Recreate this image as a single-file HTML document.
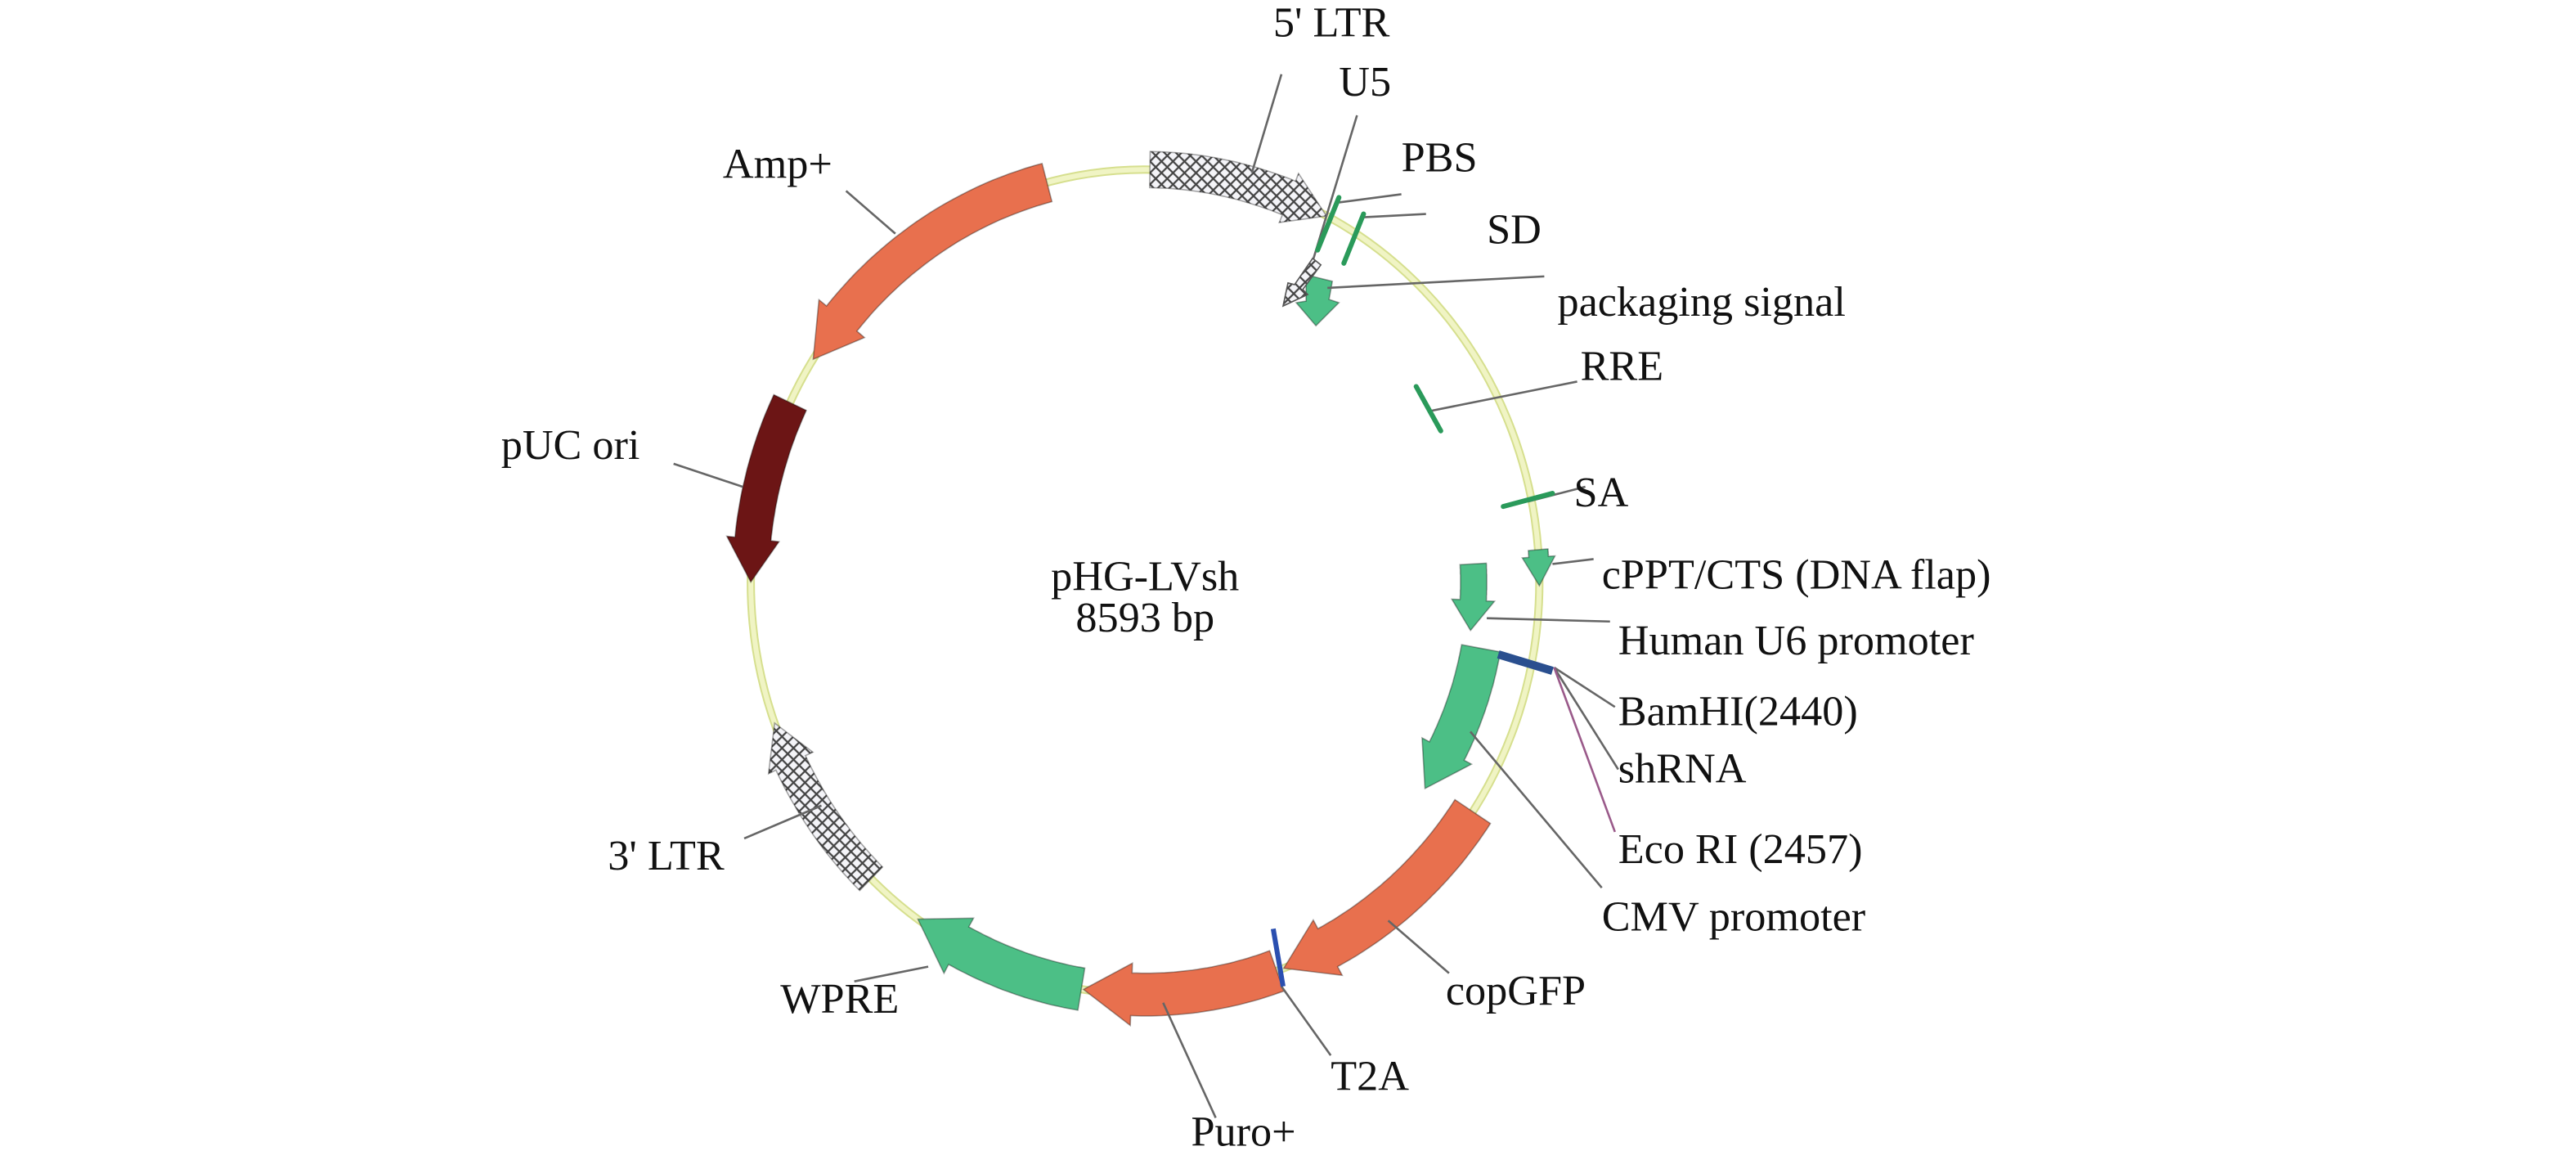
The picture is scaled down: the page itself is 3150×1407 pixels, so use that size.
<!DOCTYPE html>
<html><head><meta charset="utf-8"><style>
html,body{margin:0;padding:0;background:#fff;}
svg{display:block;}
text{font-family:"Liberation Serif",serif;font-size:26px;fill:#111;}
</style></head><body>
<svg id="s" width="3150" height="1407" viewBox="0 0 1568 700" xmlns="http://www.w3.org/2000/svg">
<defs>
<pattern id="hatch" width="7" height="7" patternUnits="userSpaceOnUse">
<rect width="7" height="7" fill="#f4f4f8"/>
<path d="M0,0L7,7M7,0L0,7" stroke="#444" stroke-width="1.1"/>
</pattern>
</defs>
<ellipse cx="697" cy="354" rx="240" ry="251" fill="none" stroke="#d6df8e" stroke-width="5"/>
<ellipse cx="697" cy="354" rx="240" ry="251" fill="none" stroke="#f0f4c4" stroke-width="3"/>
<g id="feat"></g>
<polygon points="795,167 811,171 809,182 815,184 801,198 789,184 795,183" fill="#4cbf86" stroke="rgba(0,0,0,0.35)" stroke-width="0.8"/>
<g stroke="#666" stroke-width="1.3" fill="none">
<path d="M780,45L762,105"/>
<path d="M826,70L795,172"/>
<path d="M853,118L815,123"/>
<path d="M868,130L830,132"/>
<path d="M940,168L808,175"/>
<path d="M960,232L870,250"/>
<path d="M965,296L930,305"/>
<path d="M970,340L945,343"/>
<path d="M980,378L905,376"/>
<path d="M946,406L983,430"/>
<path d="M946,406L985,468"/>
<path d="M895,445L975,540"/>
<path d="M845,560L882,592"/>
<path d="M780,600L810,642"/>
<path d="M708,610L740,680"/>
<path d="M520,597L565,588"/>
<path d="M453,510L500,490"/>
<path d="M410,282L452,296"/>
<path d="M515,116L545,142"/>
</g>
<path d="M946,406L983,506" stroke="#9a5a8a" stroke-width="1.3"/>
<g stroke="#2a9a5a" stroke-width="3" stroke-linecap="round">
<path d="M815,120L802,152"/>
<path d="M830,130L818,160"/>
<path d="M862,235L877,262"/>
<path d="M915,308L945,300"/>
</g>
<path d="M912,398L945,408" stroke="#2a4f8f" stroke-width="5"/>
<path d="M775,565L781,600" stroke="#2a4fb0" stroke-width="3"/>
<polygon points="799,157 804,161 793,176 796,179 781,186 784,172 788,173" fill="url(#hatch)" stroke="#555" stroke-width="0.8"/>
<g>
<text x="775" y="22" text-anchor="start">5' LTR</text>
<text x="815" y="58">U5</text>
<text x="853" y="104">PBS</text>
<text x="905" y="148">SD</text>
<text x="948" y="192">packaging signal</text>
<text x="962" y="231">RRE</text>
<text x="958" y="308">SA</text>
<text x="975" y="358">cPPT/CTS (DNA flap)</text>
<text x="985" y="398">Human U6 promoter</text>
<text x="985" y="441">BamHI(2440)</text>
<text x="985" y="476">shRNA</text>
<text x="985" y="525">Eco RI (2457)</text>
<text x="975" y="566">CMV promoter</text>
<text x="880" y="611">copGFP</text>
<text x="810" y="663">T2A</text>
<text x="725" y="697">Puro+</text>
<text x="475" y="616">WPRE</text>
<text x="370" y="529">3' LTR</text>
<text x="305" y="279">pUC ori</text>
<text x="440" y="108">Amp+</text>
<text x="697" y="359" text-anchor="middle">pHG-LVsh</text>
<text x="697" y="384" text-anchor="middle">8593 bp</text>
</g>
</svg>
<script>
(function(){
var cx=697,cy=354,rx=240,ry=251;
function P(t,d){var a=t*Math.PI/180;return [(cx+(rx+d)*Math.sin(a)).toFixed(1),(cy-(ry+d)*Math.cos(a)).toFixed(1)].join(',');}
function arrow(t1,t2,w,head,hw,off,fill){
 var s=t2>t1?1:-1,tb=t2-s*head,pts=[],n=30,i,t;
 for(i=0;i<=n;i++){t=t1+(tb-t1)*i/n;pts.push(P(t,off+w/2));}
 pts.push(P(tb,off+w/2+hw));pts.push(P(t2,off));pts.push(P(tb,off-w/2-hw));
 for(i=n;i>=0;i--){t=t1+(tb-t1)*i/n;pts.push(P(t,off-w/2));}
 return '<polygon points="'+pts.join(' ')+'" fill="'+fill+'" stroke="rgba(0,0,0,0.35)" stroke-width="0.8"/>';
}
var O='#e8704e',G='#4cbf86',R='#6c1515',H='url(#hatch)';
var h='';
h+=arrow(0.7,27.4,22,6,5,0,H);
h+=arrow(-14.4,-57.3,24,7,6,0,O);
h+=arrow(-64.2,-90,22,6,5,0,R);
h+=arrow(-136,-110,20,6,5,0,H);
h+=arrow(189.3,215.2,26,7,6,0,G);
h+=arrow(160.5,189,26,7,6,0,O);
h+=arrow(123.8,159.4,26,7,6,0,O);
h+=arrow(100.6,125,24,7,5,-32,G);
h+=arrow(87,98,16,5,5,-40,G);
h+=arrow(85.5,90.5,12,4,4,0,G);
document.getElementById('feat').innerHTML=h;
})();
</script>
</body></html>
